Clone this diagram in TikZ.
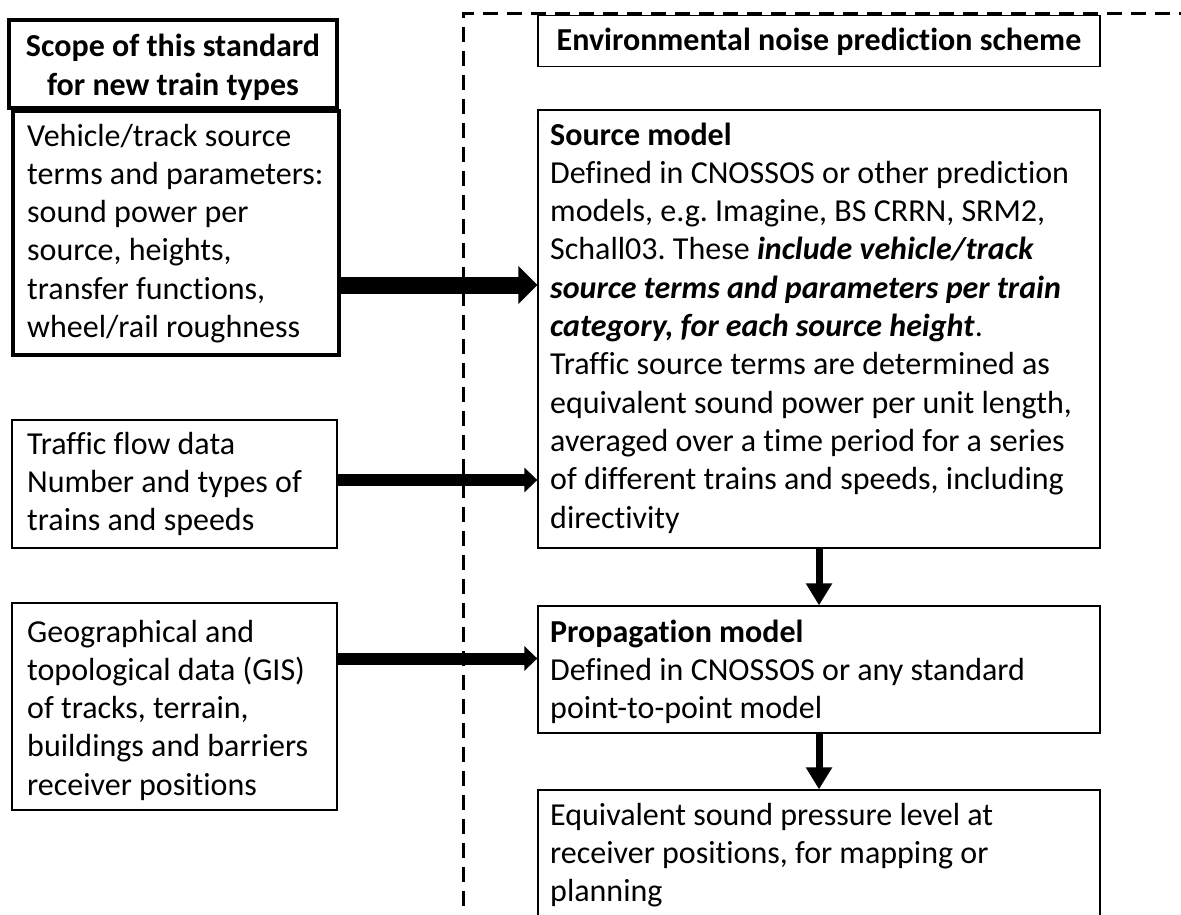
\documentclass[tikz,border=0pt]{standalone}
\usepackage{fontspec}
\setmainfont{Carlito}[Ligatures={NoCommon}]
\usetikzlibrary{arrows.meta,calc}
\frenchspacing
\begin{document}
\begin{tikzpicture}[x=1pt,y=-1pt,
  thinbox/.style={draw=black,line width=1.3pt,inner sep=0pt,fill=white},
  thickbox/.style={draw=black,line width=4pt,inner sep=0pt,fill=white},
  txt/.style={inner sep=0pt,align=left,anchor=base west,font=\fontsize{32}{38.3}\selectfont},
  ttl/.style={inner sep=0pt,align=center,anchor=base,font=\fontsize{32}{39}\selectfont\bfseries},
  bigarrow/.style={line width=17pt,-{Triangle[width=37pt,length=19pt]}},
  midarrow/.style={line width=12pt,-{Triangle[width=24pt,length=13pt]}},
  downarrow/.style={line width=7pt,-{Triangle[width=25pt,length=22pt]}},
]
\useasboundingbox (0,0) rectangle (1181,915);
\clip (0,0) rectangle (1181,915);
% dashed frame
\draw[line width=3pt,dash pattern=on 15pt off 9pt] (463,930) -- (463,14) -- (1190,14);
% boxes
\node[thickbox,minimum width=328,minimum height=88] (scope) at (173,64) {};
\node[thickbox,minimum width=326,minimum height=244] (veh) at (176,233) {};
\node[thinbox,minimum width=325,minimum height=128] (traf) at (174.5,484) {};
\node[thinbox,minimum width=325,minimum height=207] (geo) at (174.5,706.5) {};
\node[thinbox,minimum width=562,minimum height=51] (env) at (819,41) {};
\node[thinbox,minimum width=562,minimum height=438] (src) at (819,329) {};
\node[thinbox,minimum width=562,minimum height=127] (prop) at (819,669.5) {};
\node[thinbox,minimum width=562,minimum height=160] (eq) at (819,870) {};
% texts (anchored at the baseline of the last line)
\node[ttl] (scopet) at (173,96) {Scope of this standard\\for new train types};
\node[ttl] (envt) at (819,51) {Environmental noise prediction scheme};
\node[txt] (veht) at (27,337.5) {Vehicle/track source\\terms and parameters:\\sound power per\\source, heights,\\transfer functions,\\wheel/rail roughness};
\node[txt] (traft) at (27,530.6) {Traffic flow data\\Number and types of\\trains and speeds};
\node[txt] (geot) at (27,795.2) {Geographical and\\topological data (GIS)\\of tracks, terrain,\\buildings and barriers\\receiver positions};
\node[txt] (srct) at (550,528) {\textbf{Source model}\\Defined in CNOSSOS or other prediction\\models, e.g. Imagine, BS CRRN, SRM2,\\Schall03. These \textbf{\textit{include vehicle/track}}\\\textbf{\textit{source terms and parameters per train}}\\\textbf{\textit{category, for each source height}}.\\Traffic source terms are determined as\\equivalent sound power per unit length,\\averaged over a time period for a series\\of different trains and speeds, including\\directivity};
\node[txt] (propt) at (550,718.6) {\textbf{Propagation model}\\Defined in CNOSSOS or any standard\\point-to-point model};
\node[txt] (eqt) at (550,901.6) {Equivalent sound pressure level at\\receiver positions, for mapping or\\planning};
% arrows
\coordinate (va) at ([yshift=-52pt]veh.east);
\coordinate (ta) at ([yshift=4pt]traf.east);
\coordinate (ga) at ([yshift=48pt]geo.east);
\draw[bigarrow] (va) -- (src.west |- va);
\draw[midarrow] (ta) -- (src.west |- ta);
\draw[midarrow] (ga) -- (prop.west |- ga);
\draw[downarrow] (src.south) -- (prop.north);
\draw[downarrow] (prop.south) -- (eq.north);
\end{tikzpicture}
\end{document}
